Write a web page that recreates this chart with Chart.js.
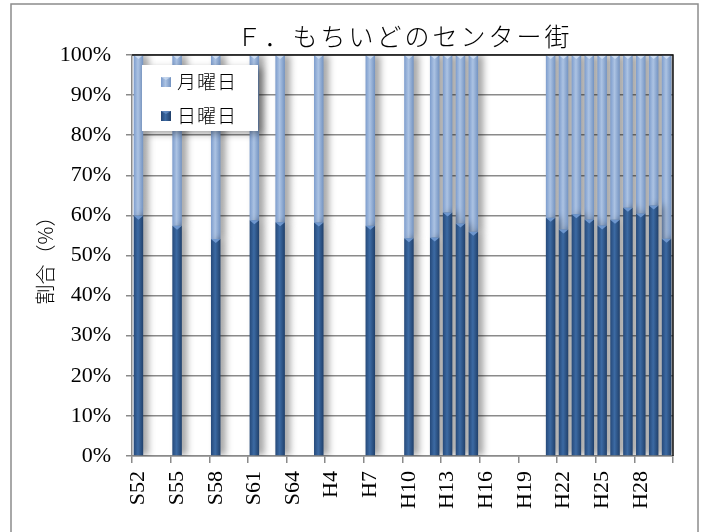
<!DOCTYPE html>
<html>
<head>
<meta charset="utf-8">
<script src="https://cdn.jsdelivr.net/npm/chart.js@4.4.1/dist/chart.umd.min.js"></script>
<style>
html,body{margin:0;padding:0;background:#fff;}
canvas{display:block;}
</style>
</head>
<body>
<canvas id="c" width="705" height="532"></canvas>
<script>
const chartTitle = 'Ｆ．もちいどのセンター街';
const yTitle = '割合（%）';
const categories = ['S52','S53','S54','S55','S56','S57','S58','S59','S60','S61','S62','S63','S64',
  'H2','H3','H4','H5','H6','H7','H8','H9','H10','H11','H12','H13','H14','H15','H16','H17','H18',
  'H19','H20','H21','H22','H23','H24','H25','H26','H27','H28','H29','H30'];
const seriesNames = ['日曜日', '月曜日'];
const sunday = [59.9, null, null, 57.4, null, null, 54.1, null, null, 58.8, null, 58.3, null,
  null, 58.2, null, null, null, 57.4, null, null, 54.3, null, 54.5, 60.7, 58.0, 55.9, null, null, null,
  null, null, 59.4, 56.5, 60.3, 59.0, 57.5, 58.9, 61.9, 60.5, 62.5, 54.2];
const monday = [40.1, null, null, 42.6, null, null, 45.9, null, null, 41.2, null, 41.7, null,
  null, 41.8, null, null, null, 42.6, null, null, 45.7, null, 45.5, 39.3, 42.0, 44.1, null, null, null,
  null, null, 40.6, 43.5, 39.7, 41.0, 42.5, 41.1, 38.1, 39.5, 37.5, 45.8];
const yTickValues = [0,10,20,30,40,50,60,70,80,90,100];

const darkStops = ['#244777', '#3c6aa3', '#1f3e68'];
const lightStops = ['#7a9acb', '#acc3e3', '#7191c0'];

function barGradient(stops) {
  return function(ctx) {
    const chart = ctx.chart;
    if (!chart.chartArea || !chart.scales.x) return stops[1];
    const x = chart.scales.x.getPixelForValue(ctx.dataIndex);
    const g = chart.ctx.createLinearGradient(x - 5, 0, x + 5, 0);
    g.addColorStop(0, stops[0]);
    g.addColorStop(0.45, stops[1]);
    g.addColorStop(1, stops[2]);
    return g;
  };
}

const shadowPlugin = {
  id: 'shadow',
  beforeDatasetsDraw(chart) {
    const c = chart.ctx;
    c.save();
    c.shadowColor = 'rgba(0,0,0,0.38)';
    c.shadowBlur = 7;
    c.shadowOffsetX = 5;
    c.shadowOffsetY = 0;
  },
  afterDatasetsDraw(chart) {
    const c = chart.ctx;
    c.restore();
    chart.data.datasets.forEach((ds, di) => {
      const meta = chart.getDatasetMeta(di);
      meta.data.forEach((el, i) => {
        if (ds.data[i] == null) return;
        const w = el.width, x = el.x, y = el.y;
        c.save();
        c.fillStyle = di === 0 ? 'rgba(120,160,215,0.85)' : 'rgba(215,228,245,0.85)';
        c.beginPath();
        c.moveTo(x - w / 2, y);
        c.lineTo(x + w / 2, y);
        c.lineTo(x, y + 4);
        c.closePath();
        c.fill();
        c.restore();
      });
    });
  }
};

const decorPlugin = {
  id: 'decor',
  beforeDraw(chart) {
    const c = chart.ctx;
    c.save();
    c.fillStyle = '#fff';
    c.fillRect(0, 0, chart.width, chart.height);
    c.strokeStyle = '#8c8c8c';
    c.lineWidth = 1.5;
    c.strokeRect(11, 4, 687, 560);
    c.restore();
  },
  afterDraw(chart) {
    const c = chart.ctx;
    const a = chart.chartArea;
    c.save();
    c.strokeStyle = '#111';
    c.lineWidth = 1.5;
    c.beginPath();
    c.moveTo(a.left, a.top);
    c.lineTo(a.right, a.top);
    c.lineTo(a.right, a.bottom);
    c.stroke();
    c.fillStyle = '#000';
    c.font = '300 25px "Noto Sans CJK JP"';
    c.textAlign = 'center';
    c.textBaseline = 'middle';
    try { c.letterSpacing = '3px'; } catch (e) {}
    c.fillText(chartTitle, (a.left + a.right) / 2 + 2, 36);
    try { c.letterSpacing = '0px'; } catch (e) {}
    const lx = 142, ly = 65, lw = 116, lh = 66;
    c.save();
    c.shadowColor = 'rgba(0,0,0,0.35)';
    c.shadowBlur = 7;
    c.shadowOffsetX = 4;
    c.shadowOffsetY = 3;
    c.fillStyle = '#fff';
    c.fillRect(lx, ly, lw, lh);
    c.restore();
    const items = [
      {name: seriesNames[1], stops: lightStops, y: 82},
      {name: seriesNames[0], stops: darkStops, y: 116}
    ];
    items.forEach(it => {
      const mx = 161, my = it.y - 5;
      const g = c.createLinearGradient(mx, 0, mx + 10, 0);
      g.addColorStop(0, it.stops[0]);
      g.addColorStop(0.45, it.stops[1]);
      g.addColorStop(1, it.stops[2]);
      c.fillStyle = g;
      c.fillRect(mx, my, 10, 10);
      c.fillStyle = it.stops === darkStops ? 'rgba(120,160,215,0.6)' : 'rgba(215,228,245,0.6)';
      c.beginPath();
      c.moveTo(mx, my); c.lineTo(mx + 10, my); c.lineTo(mx + 5, my + 3); c.closePath(); c.fill();
      c.fillStyle = '#000';
      c.font = '300 19px "Noto Sans CJK JP"';
      c.textAlign = 'left';
      c.textBaseline = 'middle';
      try { c.letterSpacing = '1px'; } catch (e) {}
      c.fillText(it.name, 177, it.y);
      try { c.letterSpacing = '0px'; } catch (e) {}
    });
    c.restore();
  }
};

new Chart(document.getElementById('c'), {
  type: 'bar',
  data: {
    labels: categories,
    datasets: [
      {label: seriesNames[0], data: sunday, backgroundColor: barGradient(darkStops), borderWidth: 0,
       barPercentage: 0.74, categoryPercentage: 1.0},
      {label: seriesNames[1], data: monday, backgroundColor: barGradient(lightStops), borderWidth: 0,
       barPercentage: 0.74, categoryPercentage: 1.0}
    ]
  },
  options: {
    responsive: false,
    animation: false,
    devicePixelRatio: 1,
    layout: {padding: {left: 0, top: 55, right: 32, bottom: 0}},
    plugins: {legend: {display: false}, title: {display: false}, tooltip: {enabled: false}},
    scales: {
      x: {
        stacked: true,
        offset: true,
        grid: {
          offset: true,
          drawOnChartArea: false,
          drawTicks: true,
          tickLength: 7,
          lineWidth: 1.5,
          color: (ctx) => (ctx.type !== 'tick' || ctx.index % 3 === 0) ? '#8a8a8a' : 'rgba(0,0,0,0)'
        },
        border: {color: '#8a8a8a', width: 1.5},
        ticks: {
          autoSkip: false,
          minRotation: 90,
          maxRotation: 90,
          padding: 8,
          color: '#000',
          font: {family: '"Liberation Serif"', size: 22},
          callback: (v, i) => (i % 3 === 0 ? categories[i] : '')
        },
        afterFit: (s) => { s.height = 76; }
      },
      y: {
        stacked: true,
        min: 0,
        max: 100,
        afterBuildTicks: (s) => { s.ticks = yTickValues.map(v => ({value: v})); },
        ticks: {
          padding: 15,
          color: '#000',
          font: {family: '"Liberation Serif"', size: 22},
          callback: (v) => v + '%'
        },
        grid: {color: '#8a8a8a', lineWidth: 1.5, tickLength: 6},
        border: {color: '#8a8a8a', width: 1.5},
        title: {
          display: true,
          text: yTitle,
          color: '#000',
          font: {family: '"Noto Sans CJK JP"', size: 20, weight: '300'},
          padding: {top: 33, bottom: 0}
        },
        afterFit: (s) => { s.width = 132; }
      }
    }
  },
  plugins: [shadowPlugin, decorPlugin]
});
</script>
</body>
</html>
